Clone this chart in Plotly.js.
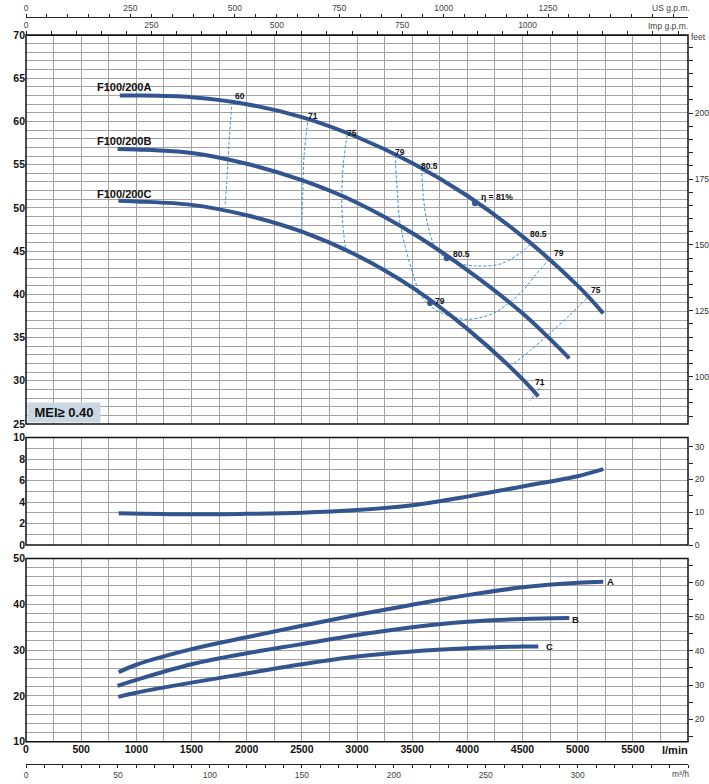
<!DOCTYPE html>
<html><head><meta charset="utf-8">
<script src="https://cdn.plot.ly/plotly-3.0.1.min.js"></script>
<style>html,body{margin:0;padding:0;background:#fff}</style>
</head><body>
<div id="chart" style="width:709px;height:784px"></div>
<script>
// ---- data (flow in l/min) ----
const flowA = [850, 1000, 1500, 2000, 2500, 3000, 3500, 4000, 4500, 5000, 5232];
const headA = [63.0, 63.0, 62.8, 62.0, 60.5, 58.2, 55.2, 51.4, 46.7, 41.0, 37.8];
const flowB = [830, 1000, 1500, 2000, 2500, 3000, 3500, 4000, 4500, 4924];
const headB = [56.8, 56.75, 56.35, 55.1, 53.2, 50.6, 47.1, 42.8, 37.8, 32.6];
const flowC = [837, 1000, 1500, 2000, 2500, 3000, 3500, 4000, 4500, 4643];
const headC = [50.83, 50.75, 50.35, 49.15, 47.25, 44.5, 40.8, 36.0, 30.2, 28.2];

const flowN = [840, 1500, 2000, 2500, 3000, 3500, 4000, 4500, 5000, 5232];
const npsh  = [2.95, 2.85, 2.9, 3.0, 3.25, 3.7, 4.5, 5.45, 6.4, 7.05];

const flowPA = [840, 1000, 1500, 2000, 2500, 3000, 3500, 4000, 4500, 5000, 5232];
const powerA = [25.2, 26.8, 30.2, 32.8, 35.3, 37.7, 39.9, 42.0, 43.7, 44.7, 44.9];
const flowPB = [830, 1000, 1500, 2000, 2500, 3000, 3500, 4000, 4500, 4924];
const powerB = [22.2, 23.5, 26.9, 29.3, 31.3, 33.3, 35.0, 36.2, 36.8, 37.0];
const flowPC = [837, 1000, 1500, 2000, 2500, 3000, 3500, 4000, 4500, 4643];
const powerC = [19.8, 20.7, 22.9, 24.9, 26.9, 28.6, 29.7, 30.4, 30.8, 30.8];

// iso-efficiency lines
const eff60Q  = [1868, 1840, 1822, 1805];
const eff60H  = [62.3, 57.5, 53.5, 50.2];
const eff71Q  = [2552, 2520, 2508, 2499];
const eff71H  = [59.9, 56.0, 51.5, 47.1];
const eff75Q  = [2910, 2876, 2862, 2872, 2900];
const eff75H  = [58.4, 55.0, 51.3, 48.0, 44.95];
const eff79Q  = [3345, 3365, 3390, 3496, 3586, 3700, 3813, 3994, 4235, 4477, 4629, 4734];
const eff79H  = [56.1, 52.0, 48.25, 42.81, 39.72, 38.3, 37.6, 37.1, 37.8, 40.1, 42.4, 43.97];
const eff805Q = [3586, 3600, 3632, 3722, 3873, 4085, 4296, 4477, 4578];
const eff805H = [54.58, 51.5, 48.6, 45.13, 43.77, 43.28, 43.5, 44.75, 45.9];
const eff75rQ = [5082, 4920, 4749, 4580, 4402];
const eff75rH = [39.54, 37.5, 35.5, 33.6, 31.8];
const eff71rQ = [4689, 4568];
const eff71rH = [29.6, 27.7];

const bepQ = [4070, 3813, 3662];
const bepH = [50.53, 44.17, 39.0];

// tick labels
const lminTicks = [0,500,1000,1500,2000,2500,3000,3500,4000,4500,5000,5500];
const usTicks   = [0,250,500,750,1000,1250];
const impTicks  = [0,250,500,750,1000];
const m3hTicks  = [0,50,100,150,200,250,300];
const headTicks = [25,30,35,40,45,50,55,60,65,70];
const feetTicks = [100,125,150,175,200];
const npshTicks = [0,2,4,6,8,10];
const npshFtTicks = [0,10,20,30];
const powTicks  = [10,20,30,40,50];
const hpTicks   = [20,30,40,50,60];

// ---- figure ----
const W = 709, H = 784, ML = 26, MR = 21;
const PW = W - ML - MR;
const px = x => (x - ML) / PW;
const py = y => 1 - y / H;

const FONT = "'Liberation Sans', Arial, Helvetica, sans-serif";
const CURVE = '#33558f';
const DASH = '#3d8fd1';
const GRID = '#a3a3a3';

const traces = [];
function curve(x, y, xa, ya) {
  traces.push({x, y, xaxis: xa, yaxis: ya, mode: 'lines', type: 'scatter',
    line: {color: CURVE, width: 4, shape: 'spline', smoothing: 1}, hoverinfo: 'skip'});
}
function dashed(x, y) {
  traces.push({x, y, xaxis: 'x', yaxis: 'y', mode: 'lines', type: 'scatter',
    line: {color: DASH, width: 1, dash: '3px,2px', shape: 'spline', smoothing: 0.9}, hoverinfo: 'skip'});
}
dashed(eff60Q, eff60H); dashed(eff71Q, eff71H); dashed(eff75Q, eff75H);
dashed(eff79Q, eff79H); dashed(eff805Q, eff805H); dashed(eff75rQ, eff75rH); dashed(eff71rQ, eff71rH);
curve(flowA, headA, 'x', 'y');
curve(flowB, headB, 'x', 'y');
curve(flowC, headC, 'x', 'y');
traces.push({x: bepQ, y: bepH, xaxis: 'x', yaxis: 'y', mode: 'markers', type: 'scatter',
  marker: {color: CURVE, size: 6}, hoverinfo: 'skip'});
curve(flowN, npsh, 'x', 'y2');
curve(flowPA, powerA, 'x', 'y3');
curve(flowPB, powerB, 'x', 'y3');
curve(flowPC, powerC, 'x', 'y3');
// empty traces to register secondary axes
[['x2','y'],['x3','y'],['x4','y3'],['x','y4'],['x','y5'],['x','y6']].forEach(([a,b]) =>
  traces.push({x: [], y: [], xaxis: a, yaxis: b, type: 'scatter', mode: 'lines', hoverinfo: 'skip'}));

const boldTick = {family: FONT, size: 10.5, color: '#111', weight: 'bold'};
const thinTick = {family: FONT, size: 8.5, color: '#333'};

function leftY(domain, range, tickvals, minorDt) {
  return {domain, range, tickmode: 'array', tickvals, ticks: '', showgrid: true,
    gridcolor: GRID, gridwidth: 1, zeroline: false, showline: false, anchor: 'x',
    tickfont: boldTick, fixedrange: true,
    minor: {dtick: minorDt, showgrid: true, gridcolor: GRID, gridwidth: 1}};
}
function rightY(over, range, tickvals) {
  return {overlaying: over, side: 'right', anchor: 'x', range, tickmode: 'array', tickvals,
    ticks: 'outside', ticklen: 4, tickcolor: '#222', tickwidth: 1, showgrid: false, zeroline: false,
    showline: false, tickfont: thinTick,
    minor: {tickmode: 'linear', tick0: 0, dtick: 5, ticks: 'outside', ticklen: 4, tickcolor: '#222', tickwidth: 1, showgrid: false}};
}
function freeX(range, tickvals, position, side, minorDt, ticklen) {
  return {overlaying: 'x', anchor: 'free', position, side, range, tickmode: 'array', tickvals,
    ticks: 'outside', ticklen, tickcolor: '#222', tickwidth: 1, showline: true, linecolor: '#222',
    linewidth: 1.2, showgrid: false, zeroline: false, tickfont: {family: FONT, size: 8.5, color: '#444'},
    minor: {tickmode: 'linear', tick0: 0, dtick: minorDt, ticks: 'outside', ticklen, tickcolor: '#222', tickwidth: 1, showgrid: false}};
}

const d1 = [py(424), py(35)];
const d2 = [py(545), py(437.5)];
const d3 = [py(741.7), py(558.5)];

const layout = {
  width: W, height: H, margin: {l: ML, r: MR, t: 0, b: 0, autoexpand: false},
  paper_bgcolor: '#fff', plot_bgcolor: '#fff', showlegend: false,
  font: {family: FONT, color: '#111'},
  xaxis: {domain: [0, 1], range: [0, 6000], anchor: 'y3', tickmode: 'array', tickvals: lminTicks,
    ticks: '', showgrid: true, gridcolor: GRID, gridwidth: 1, zeroline: false, showline: false,
    tickfont: boldTick, minor: {dtick: 250, showgrid: true, gridcolor: GRID, gridwidth: 1}},
  xaxis2: freeX([0, 6000 / 3.78541], usTicks, py(17), 'top', 50, 3),
  xaxis3: freeX([0, 6000 / 4.54609], impTicks, py(35), 'top', 50, 4),
  xaxis4: freeX([0, 360], m3hTicks, py(763.5), 'bottom', 10, 3),
  yaxis: leftY(d1, [25, 70], headTicks, 1),
  yaxis2: leftY(d2, [0, 10], npshTicks, 1),
  yaxis3: leftY(d3, [10, 50], powTicks, 2),
  yaxis4: rightY('y', [25 / 0.3048, 70 / 0.3048], feetTicks),
  yaxis5: rightY('y2', [0, 10 / 0.3048], npshFtTicks),
  yaxis6: rightY('y3', [10 / 0.745699, 50 / 0.745699], hpTicks),
  shapes: ['y', 'y2', 'y3'].map(a => ({type: 'rect', xref: 'x domain', yref: a + ' domain',
    x0: 0, x1: 1, y0: 0, y1: 1, line: {color: '#111', width: 1.5}, layer: 'above'})),
  annotations: []
};

function ann(text, x, y, opts) {
  layout.annotations.push(Object.assign({text, x: px(x), y: py(y), xref: 'paper', yref: 'paper',
    showarrow: false, xanchor: 'center', yanchor: 'middle',
    font: {family: FONT, size: 12, color: '#111', weight: 'bold'}}, opts || {}));
}
const small = {family: FONT, size: 8.5, color: '#444'};
ann('US g.p.m.', 671, 8, {font: small});
ann('Imp g.p.m.', 668, 26, {font: small});
ann('feet', 698, 37, {font: small});
ann('m³/h', 680, 774, {font: small});
ann('l/min', 675, 750, {font: {family: FONT, size: 11, color: '#111', weight: 'bold'}});
const lbl = {family: FONT, size: 11, color: '#111', weight: 'bold'};
ann('F100/200A', 123.5, 86.7, {font: lbl});
ann('F100/200B', 123.5, 140.7, {font: lbl});
ann('F100/200C', 123.5, 194, {font: lbl});
const abc = {family: FONT, size: 9.5, color: '#111', weight: 'bold'};
ann('A', 610, 581, {font: abc});
ann('B', 575, 619, {font: abc});
ann('C', 549, 646, {font: abc});
ann('MEI≥ 0.40', 63.5, 412.5, {font: {family: FONT, size: 13, color: '#111', weight: 'bold'},
  bgcolor: '#c8d7e2', width: 70, height: 17, borderpad: 1});
const effFont = {family: FONT, size: 8.5, color: '#111', weight: 'bold'};
[['60', 240, 95.7], ['71', 313.3, 116], ['75', 351.7, 132.7], ['79', 400, 151.7], ['80.5', 429, 166],
 ['η = 81%', 497, 197.3], ['80.5', 538.3, 234], ['79', 559, 253.3], ['75', 595.7, 290],
 ['80.5', 461, 254], ['79', 440, 301], ['71', 540, 382]].forEach(([t, x, y]) => ann(t, x, y, {font: effFont}));

Plotly.newPlot('chart', traces, layout, {staticPlot: true, displayModeBar: false});
</script>
</body></html>
